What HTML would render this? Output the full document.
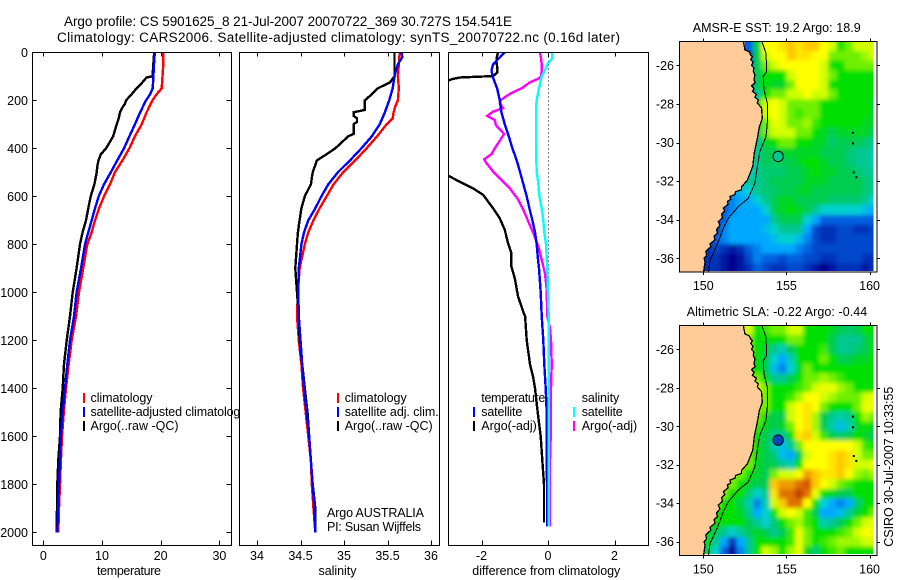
<!DOCTYPE html>
<html>
<head>
<meta charset="utf-8">
<title>Argo profile</title>
<style>
html,body{margin:0;padding:0;background:#fff;}
svg{display:block;}
text{font-family:"Liberation Sans",sans-serif;font-size:12.5px;fill:#000;}
.t{text-anchor:middle;}
.e{text-anchor:end;}
</style>
</head>
<body>
<svg id="chart" xmlns="http://www.w3.org/2000/svg" width="900" height="580" viewBox="0 0 900 580">
<rect width="900" height="580" fill="#fff"/>
<defs>
<clipPath id="c1"><rect x="32" y="52" width="199" height="493"/></clipPath>
<clipPath id="c2"><rect x="239" y="52" width="200" height="493"/></clipPath>
<clipPath id="c3"><rect x="448" y="52" width="200" height="493"/></clipPath>
<clipPath id="cm1"><rect x="679" y="41" width="194.5" height="230"/></clipPath>
<clipPath id="cm2"><rect x="679" y="325" width="194.5" height="229"/></clipPath>
<clipPath id="cb1"><rect x="679" y="41" width="198" height="231"/></clipPath>
<clipPath id="cb2"><rect x="679" y="325" width="198" height="230"/></clipPath>
<filter id="soft" x="-5%" y="-5%" width="110%" height="110%">
<feGaussianBlur in="SourceGraphic" stdDeviation="2" result="b"/>
<feMerge><feMergeNode in="SourceGraphic"/><feMergeNode in="b"/></feMerge>
</filter>
</defs>
<text x="64" y="26" style="font-size:13.5px" textLength="448" lengthAdjust="spacing">Argo profile: CS 5901625_8 21-Jul-2007 20070722_369 30.727S 154.541E</text>
<text x="57" y="42" style="font-size:13.5px" textLength="563" lengthAdjust="spacing">Climatology: CARS2006. Satellite-adjusted climatology: synTS_20070722.nc (0.16d later)</text>

<g id="p1">
<rect x="32.5" y="52.5" width="199" height="493" fill="#fff"/>
<g id="p1s" clip-path="url(#c1)"></g>
<text x="97" y="575" textLength="64">temperature</text>
<rect x="83" y="393" width="2" height="10" fill="#f00"/>
<rect x="83" y="407" width="2" height="10" fill="#00f"/>
<rect x="83" y="421" width="2" height="10" fill="#000"/>
<text x="90.5" y="402" textLength="62">climatology</text>
<text x="90.5" y="416" textLength="156">satellite-adjusted climatology</text>
<text x="90.5" y="430" textLength="88">Argo(..raw -QC)</text>
</g>

<g id="p2">
<rect x="239.5" y="52.5" width="200" height="493" fill="#fff"/>
<g id="p2s" clip-path="url(#c2)"></g>
<text x="318.5" y="575" textLength="38">salinity</text>
<rect x="337" y="393" width="2" height="10" fill="#f00"/>
<rect x="337" y="407" width="2" height="10" fill="#00f"/>
<rect x="337" y="421" width="2" height="10" fill="#000"/>
<text x="344.7" y="402" textLength="62">climatology</text>
<text x="344.7" y="416" textLength="94">satellite adj. clim.</text>
<text x="344.7" y="430" textLength="88">Argo(..raw -QC)</text>
<text x="327" y="517" textLength="97">Argo AUSTRALIA</text>
<text x="327" y="531" textLength="94">PI: Susan Wijffels</text>
</g>

<g id="p3">
<rect x="448.5" y="52.5" width="200" height="493" fill="#fff"/>
<g id="p3s" clip-path="url(#c3)"></g>
<text x="472.3" y="575" textLength="148">difference from climatology</text>
<text x="481.3" y="402" textLength="64">temperature</text>
<text x="481.3" y="416" textLength="41">satellite</text>
<text x="481.3" y="430" textLength="55.5">Argo(-adj)</text>
<rect x="473" y="407" width="2" height="10" fill="#00f"/>
<rect x="473" y="421" width="2" height="10" fill="#000"/>
<text x="581.7" y="402" textLength="37.5">salinity</text>
<text x="581.7" y="416" textLength="41">satellite</text>
<text x="581.7" y="430" textLength="55.5">Argo(-adj)</text>
<rect x="573" y="407" width="2" height="10" fill="#0ff"/>
<rect x="573" y="421" width="2" height="10" fill="#f0f"/>
</g>

<g id="m1"></g>
<text x="692.7" y="32" textLength="168" lengthAdjust="spacing">AMSR-E SST: 19.2  Argo: 18.9</text>
<g id="m2"></g>
<text x="686.7" y="316" textLength="180.5" lengthAdjust="spacing">Altimetric SLA: -0.22  Argo: -0.44</text>
<text transform="translate(893,546.7) rotate(-90)" textLength="160" lengthAdjust="spacing">CSIRO 30-Jul-2007 10:33:55</text>
</svg>

<script>
// ---------- profile data ----------
const depthTicks = [0,200,400,600,800,1000,1200,1400,1600,1800,2000];
const tempTicks = [0,10,20,30];
const salTicks = [34,34.5,35,35.5,36];
const salTickLabels = ['34','34.5','35','35.5','36'];
const diffTicks = [-2,0,2];

const tempClimDepth = [0,50,100,150,175,200,250,300,350,400,450,500,550,600,650,700,750,800,900,1000,1100,1200,1300,1400,1500,1600,1700,1800,1900,2000];
const tempClim = [20.45,20.45,20.3,20.17,19.3,18.6,17.6,16.76,15.6,14.66,13.5,12.2,11.36,10.34,9.5,8.8,8.24,7.5,6.8,6.08,5.57,4.83,4.32,3.86,3.5,3.18,3.0,2.84,2.67,2.56];
const tempSat = [19.0,18.86,18.75,18.64,18.2,17.5,16.5,15.6,14.66,13.75,12.6,11.5,10.34,9.43,8.8,8.24,7.67,7.1,6.42,5.68,5.23,4.55,4.09,3.7,3.3,3.0,2.84,2.67,2.5,2.39];
const tempArgoDepth = [0,100,105,125,150,175,200,215,225,250,275,300,350,400,425,450,475,500,550,600,650,700,750,800,900,1000,1100,1200,1300,1400,1500,1600,1700,1800,1900,2000];
const tempArgo = [18.9,18.6,17.6,16.9,15.9,15.05,14.1,13.9,13.6,13.07,12.84,12.5,11.9,10.7,9.8,9.4,9.2,9.1,8.7,8.07,7.67,7.27,6.7,6.25,5.68,5.0,4.55,3.98,3.52,3.3,2.95,2.84,2.56,2.39,2.33,2.27];

const salClimDepth = [0,50,100,150,200,225,250,275,300,350,400,450,500,550,600,650,700,750,800,900,1000,1100,1200,1300,1400,1500,1600,1700,1800,1900,2000];
const salClim = [35.64,35.63,35.62,35.63,35.62,35.59,35.57,35.56,35.49,35.38,35.26,35.13,34.99,34.88,34.8,34.72,34.65,34.59,34.55,34.49,34.47,34.46,34.48,34.51,34.53,34.56,34.59,34.62,34.63,34.65,34.67];
const salSatDepth = [0,20,50,75,100,150,200,250,300,350,400,450,500,550,600,650,700,750,800,900,1000,1100,1200,1300,1400,1500,1600,1700,1800,1900,2000];
const salSat = [35.66,35.67,35.62,35.6,35.58,35.56,35.52,35.47,35.41,35.32,35.2,35.07,34.93,34.82,34.74,34.67,34.59,34.54,34.51,34.48,34.475,34.48,34.5,34.52,34.54,34.57,34.6,34.62,34.64,34.66,34.67];
const salArgoDepth = [0,100,125,150,175,200,215,240,250,265,275,290,300,340,350,400,420,450,500,550,600,650,700,750,800,900,1000,1100,1200,1300,1400,1500,1600,1700,1800,1900,2000];
const salArgo = [35.58,35.58,35.53,35.39,35.32,35.24,35.24,35.24,35.11,35.11,35.15,35.15,35.11,35.11,35.05,34.9,34.82,34.69,34.64,34.62,34.55,34.51,34.49,34.47,34.46,34.44,34.46,34.48,34.49,34.52,34.55,34.58,34.6,34.62,34.64,34.67,34.67];

const diffTempSatDepth = [0,50,75,100,125,150,200,250,300,350,400,450,500,550,600,650,700,750,800,850,900,1000,1100,1200,1300,1400,1500,1600,1700,1800,1900,1975];
const diffTempSat = [-1.3,-1.65,-1.7,-1.67,-1.6,-1.53,-1.45,-1.4,-1.3,-1.18,-1.07,-0.94,-0.84,-0.74,-0.64,-0.56,-0.47,-0.39,-0.34,-0.31,-0.27,-0.22,-0.19,-0.14,-0.11,-0.07,-0.04,-0.04,-0.04,-0.03,-0.03,-0.03];
const diffTempArgoDepth = [0,25,40,70,85,99,101,105,112,118,150,200,300,400,500,514,540,567,594,650,692,740,796,838,893,942,1018,1083,1100,1200,1250,1300,1350,1400,1500,1600,1700,1800,1900,1950,1960];
const diffTempArgo = [-1.5,-1.55,-1.55,-1.52,-1.53,-1.65,-1.95,-2.65,-2.9,-3.0,-3.6,-3.4,-3.1,-3.05,-3.05,-3.0,-2.65,-2.25,-1.95,-1.65,-1.45,-1.3,-1.2,-1.1,-1.1,-1.0,-0.9,-0.74,-0.69,-0.64,-0.59,-0.54,-0.45,-0.39,-0.31,-0.22,-0.17,-0.12,-0.12,-0.12,-0.12];
const diffSalSatDepth = [0,25,50,75,100,150,200,225,250,300,400,500,550,600,650,700,750,800,900,1000,1100,1200,1500,1800,1975];
const diffSalSat = [0.13,0.13,-0.02,-0.09,-0.19,-0.27,-0.34,-0.36,-0.36,-0.36,-0.36,-0.34,-0.29,-0.26,-0.19,-0.14,-0.11,-0.06,-0.02,0,0.02,0.02,0.02,0.02,0.02];
const diffSalArgoDepth = [0,25,50,75,100,110,125,150,160,178,200,212,233,247,265,271,282,303,321,340,379,400,424,446,462,497,532,567,615,657,706,754,810,865,921,990,1100,1150,1200,1300,1400,1500,1600,1700,1800,1900,1975];
const diffSalArgo = [-0.24,-0.21,-0.19,-0.19,-0.21,-0.29,-0.54,-0.79,-0.96,-1.2,-1.43,-1.45,-1.35,-1.65,-1.83,-1.75,-1.6,-1.57,-1.45,-1.32,-1.5,-1.6,-1.7,-1.92,-1.85,-1.65,-1.4,-1.15,-0.89,-0.74,-0.59,-0.44,-0.29,-0.19,-0.09,-0.04,-0.02,0.06,0.09,0.11,0.09,0.09,0.08,0.06,0.06,0.06,0.05];

// ---------- map data (colour index per 0.5 degree cell) ----------
const _ = null;
const lonTicks = [150,155,160];
const latTicks = [-26,-28,-30,-32,-34,-36];
const colorStops = ['#00008c','#0030b8','#0060e0','#00a8ff','#00d0d0','#00c890','#00cc50','#00e000','#70f000','#d0ff00','#ffff00','#ffc800','#e07000','#c04000'];
const sstGrid = [
[_,_,_,_,_,2,6,10,10,10.5,11,10.5,11,11,10,9,7,8,9,9,9],
[_,_,_,_,_,1,6,9,10,10,11,10.5,10.5,10,10,8,8,8,8,8.5,9],
[_,_,_,_,_,2,6,8,9,10,10,10,10,10,9,7,7,8,8,8,8],
[_,_,_,_,_,_,6,7,7,7,9,10,10,10,9,8,7,7,7,7,7],
[_,_,_,_,_,2,6,7,6.5,6.5,8,10,10,10,9,7,7,7,7,7,7],
[_,_,_,_,_,1,5,7,8,8,9,9,10,9,9,8,7,7,7,7,7],
[_,_,_,_,_,_,7,9,10,9,8,8,8,8,7,7,7,7,7,7,6.5],
[_,_,_,_,_,_,7,9,10,9,8,7.5,8,8,7,7,7,7,7,7,6.5],
[_,_,_,_,_,_,6,8,9.5,9,8,8,8.5,7.5,7,7,7,7,7,6.5,6.5],
[_,_,_,_,_,_,6,8,9,9,9,8,8,7,6.5,6,6.5,6.5,6.5,6.5,6],
[_,_,_,_,_,_,5,6.5,7,8,8,7,7,6.5,6.5,5.5,6,6,6,5.5,5],
[_,_,_,_,_,5,5,6,6,6.5,6.5,6.5,6.5,6.5,6,6,6,5.5,5,5,4.5],
[_,_,_,_,_,4,5,6,5.5,6,6,6.5,7,7,6.5,6,6,5.5,5,5,4.5],
[_,_,_,_,_,4,5,5.5,5.5,5.5,6,6,6.5,7,6.5,6.5,6,6,5.5,5,5],
[_,_,_,_,4,5,5,5.5,6,6,6,6,6.5,6.5,6.5,6,6,6,6,5.5,5],
[_,_,_,3,3.5,4,5,5.5,5.5,6,6,6.5,6.5,6,6,6,6,6,6,5.5,5],
[_,_,2,2.5,3,3,4,5,6,6.5,6.5,6,6,6,6,5.5,5.5,5.5,5.5,5,4],
[_,2,2,2.5,3,3,3,4,6,6.5,7,6.5,6,5,4,4,4,4,4,3.5,3],
[_,1,2,3,3,3,3,3,5,6,6,6,4,3,2,2,2,2,2,2,2],
[1,1,2.5,3,3,3,3,3.5,4,5,5,5,3,1.5,1,1,1.5,1.5,1,1,1.5],
[1,2,2.5,3,3,3,3,3,3.5,4,4,3.5,2.5,1.5,1,1,1.5,1.5,1.5,1.5,1.5],
[1,1.5,1,0.5,1,2,2.5,3,3,3,3,2.5,2,1.5,1.5,1.5,1.5,1.5,1.5,1.5,1.5],
[1,1,0.5,0,0.5,1.5,2.5,2,2,1.5,2,2,1.5,1.5,1,1,1.5,1.5,1.5,1,1],
[1,1,0.5,0,0.5,1,2,1.5,1,1,1.5,1.5,1,0.5,0,0.5,1,1,1,0.5,1]
];
const slaGrid = [
[_,_,_,_,_,9,7,7.5,8,8,9,9,7,7,7,6.5,6,5.5,6,7,7],
[_,_,_,_,_,8,7,7,7,7,8,8,7,7,7,6,5,5,5,6,7],
[_,_,_,_,_,8,7,6.5,5,4.5,6,7,7,7,7.5,6,5,5,5.5,6,7],
[_,_,_,_,_,_,7,6,4,3,4.5,7,7,7,8,7,6,6,6.5,6.5,7],
[_,_,_,_,_,_,7,6,3.5,2.5,4,6.5,8,7,7,7,7,7,7,7,7],
[_,_,_,_,_,_,8,7,5,5,6,7,8,8,8.5,8,7.5,7,7,7,7],
[_,_,_,_,_,_,9,8,7,7,7,7.5,8,9,9.5,9.5,8.5,8,7,7,7],
[_,_,_,_,_,_,9,8,7,7,7.5,8.5,10,10,9,8.5,8,8,8,9,9.5],
[_,_,_,_,_,_,8,8,7,7,9,10,10.5,10,8,7,7,7,8,9.5,9.5],
[_,_,_,_,_,_,8,7,6,6,9,10,10.5,8.5,6,5,4.5,5,7,8.5,8],
[_,_,_,_,_,_,7.5,6.5,6,6.5,8,10,10.5,8.5,6,4.5,3.5,4.5,6.5,7,6.5],
[_,_,_,_,_,8,7,6,5,5,7,10.5,11,9,7.5,6,5.5,6,7,6.5,6],
[_,_,_,_,_,8,7,6,4.5,3.5,5,8,10,10,10,10,10,10,9,7.5,7],
[_,_,_,_,_,8,7,6,5.5,3.5,3,6,9,10,10,10.5,11,10.5,9,8,8],
[_,_,_,_,8,8,6.5,6,6,5,4.5,7,10,10,10,10.5,11,10.5,9,9,9.5],
[_,_,_,8,8,7,6.5,6,8,9,9,10,11.5,11,10.5,10.5,11,10,8.5,8,8.5],
[_,_,8,8,7,6.5,6,6,11,11.5,11.5,12,12.5,11,10,9,8,7.5,7,7,7],
[_,_,8,7,7,5.5,4,5,10.5,12,12,13,12,9.5,7,6.5,6,6,7,7,7],
[_,8,7,7,6,4.5,2.5,4.5,9,11,12,12,10,7,4,3,2.5,3,5.5,7,7],
[_,7,7,7,6.5,5,3,4,7,9,10,9,7.5,6,3,3,3.5,5,6.5,7,8],
[7,7,7,7,7,6,5,4,5.5,7,8,8.5,7.5,7,4.5,5,6,7,8,9,9.5],
[7,6,5,4,5,6,6.5,6,5,6,7.5,9.5,8,7,7,7,7.5,8,9,10,9.5],
[7,5,3,1,3,5,7,7,7,7,7.5,9.5,8,7,7.5,8,8.5,8.5,8.5,9,9],
[6,4,2,0,2.5,5,7,9,8.5,7,8.5,9.5,6.5,5.5,7,7.5,8,7,7,7,7]
];
const coastLon = [152.4,152.5,152.75,152.85,152.95,152.85,153.0,152.9,153.05,153.0,153.1,153.05,153.12,152.9,153.05,152.95,153.2,153.1,153.3,153.25,153.5,153.55,153.37,153.25,153.07,152.97,152.65,152.3,152.3,151.95,151.9,151.6,151.65,151.45,151.5,151.2,151.3,151.1,151.15,150.9,151.0,150.8,150.85,150.65,150.7,150.4,150.45,150.15,150.2,150.05,150.1,150.0];
const coastLat = [-24.7,-25.2,-25.3,-25.46,-25.55,-25.7,-25.85,-26.0,-26.15,-26.3,-26.5,-26.76,-26.9,-27.05,-27.2,-27.35,-27.5,-27.65,-27.8,-27.95,-28.2,-28.75,-29.2,-29.8,-30.5,-31.25,-31.95,-32.3,-32.45,-32.55,-32.7,-32.8,-32.95,-33.05,-33.2,-33.4,-33.55,-33.7,-33.9,-34.1,-34.3,-34.5,-34.7,-34.85,-35.05,-35.25,-35.4,-35.65,-35.85,-36.0,-36.2,-36.8];
const shelfLon = [153.5,153.77,153.81,153.6,153.65,153.85,153.85,153.77,153.4,153.25,153.1,152.7,152.1,151.5,151.2,150.9,150.6,150.4,150.3];
const shelfLat = [-24.7,-25.38,-26.33,-26.59,-27.28,-27.97,-29.0,-29.7,-30.47,-31.25,-32.11,-32.9,-33.32,-33.93,-34.45,-35.14,-35.74,-36.09,-36.8];
const isletLon = [159.0,159.0,159.05,159.2];
const isletLat = [-29.5,-30.05,-31.55,-31.8];
const floatLon = [154.5];
const floatLat = [-30.72];

// ---------- axis functions ----------
const NS = 'http://www.w3.org/2000/svg';
const depthY = d => 52.3 + 0.24 * d;
const tempX = v => 43.3 + 5.87 * v;
const salX = v => 257 + 87 * (v - 34);
const diffX = v => 548 + 33.25 * v;

function make(tag, parent, attrs) {
  const el = document.createElementNS(NS, tag);
  for (const k in attrs) el.setAttribute(k, attrs[k]);
  parent.appendChild(el);
  return el;
}
function drawProfile(parent, xf, depths, vals, color, name, width) {
  const pts = depths.map((d, i) => xf(vals[i]).toFixed(1) + ',' + depthY(d).toFixed(1)).join(' ');
  const el = make('polyline', parent, {points: pts, fill: 'none', stroke: color, 'stroke-width': width || 2.4, 'shape-rendering': 'crispEdges'});
  
  
}
function drawFrame(parent, x0, x1, xf, xticks, xlabels, yLabels, yTickMarks) {
  const y0 = 52.5, y1 = 545.5;
  const fr = make('rect', parent, {x: x0, y: y0, width: x1 - x0, height: y1 - y0, fill: 'none', stroke: '#000', 'stroke-width': 1, 'shape-rendering': 'crispEdges'});
  
  
  xticks.forEach((t, i) => {
    const x = Math.round(xf(t)) + 0.5;
    const up = make('path', parent, {d: `M${x} ${y0}v4M${x} ${y1}v-5`, stroke: '#000', 'stroke-width': 1, 'shape-rendering': 'crispEdges'});
    
    
    const lb = make('text', parent, {x: xf(t), y: 560, class: 't'});
    
    
    lb.textContent = xlabels[i];
  });
  if (yTickMarks) depthTicks.forEach(d => {
    const y = Math.round(depthY(d)) + 0.5;
    const tk = make('path', parent, {d: `M${x0} ${y}h4M${x1} ${y}h-5`, stroke: '#000', 'stroke-width': 1, 'shape-rendering': 'crispEdges'});
    
    
  });
  if (yLabels) depthTicks.forEach(d => {
    const lb = make('text', parent, {x: 28, y: depthY(d) + 4.5, class: 'e'});
    
    
    lb.textContent = d;
  });
}

// ---------- profiles ----------
const s1 = document.getElementById('p1s');
const s2 = document.getElementById('p2s');
const s3 = document.getElementById('p3s');
drawProfile(s1, tempX, tempClimDepth, tempClim, '#f00', 'temperature-climatology-line');
drawProfile(s1, tempX, tempArgoDepth, tempArgo, '#000', 'temperature-argo-line');
drawProfile(s1, tempX, tempClimDepth, tempSat, '#00f', 'temperature-satellite-line');
drawProfile(s2, salX, salClimDepth, salClim, '#f00', 'salinity-climatology-line');
drawProfile(s2, salX, salArgoDepth, salArgo, '#000', 'salinity-argo-line');
drawProfile(s2, salX, salSatDepth, salSat, '#00f', 'salinity-satellite-line');
const zero = make('line', s3, {x1: diffX(0) + 0.5, x2: diffX(0) + 0.5, y1: depthY(0), y2: depthY(1900), stroke: '#000', 'stroke-width': 1, 'stroke-dasharray': '1 3', 'shape-rendering': 'crispEdges'});


drawProfile(s3, diffX, diffTempArgoDepth, diffTempArgo, '#000', 'difference-temperature-argo-line');
drawProfile(s3, diffX, diffSalArgoDepth, diffSalArgo, '#f0f', 'difference-salinity-argo-line');
drawProfile(s3, diffX, diffTempSatDepth, diffTempSat, '#00f', 'difference-temperature-satellite-line');
drawProfile(s3, diffX, diffSalSatDepth, diffSalSat, '#0ff', 'difference-salinity-satellite-line');
drawFrame(document.getElementById('p1'), 32.5, 231.5, tempX, tempTicks, tempTicks, true, true);
drawFrame(document.getElementById('p2'), 239.5, 439.5, salX, salTicks, salTickLabels, false, false);
drawFrame(document.getElementById('p3'), 448.5, 648.5, diffX, diffTicks, diffTicks, false, false);

// ---------- maps ----------
function hex(c) { return [1, 3, 5].map(i => parseInt(c.substr(i, 2), 16)); }
function colorOf(v) {
  const a = Math.floor(v), b = Math.min(a + 1, colorStops.length - 1), f = v - a;
  const ca = hex(colorStops[a]), cb = hex(colorStops[b]);
  return 'rgb(' + ca.map((c, i) => Math.round(c + (cb[i] - c) * f)).join(',') + ')';
}
function drawMap(id, grid, top, bottom, lat26, pxPerDeg, clipData, clipBox, markerColor, prefix) {
  const g = document.getElementById(id);
  const lonX = lon => 703.3 + 16.63 * (lon - 150);
  const latY = lat => lat26 + pxPerDeg * (-26 - lat);
  const clipGroup = make('g', g, {'clip-path': 'url(#' + clipData + ')'});
  const cells = make('g', clipGroup, {filter: 'url(#soft)'});
  
  
  grid.forEach((row, r) => row.forEach((v, c) => {
    if (v === null) return;
    const lat0 = -24.75 - 0.5 * r, lon0 = 150 + 0.5 * c;
    const cell = make('rect', cells, {x: lonX(lon0), y: latY(lat0), width: 16.63 * 0.5 + 0.5, height: pxPerDeg * 0.5 + 0.5, fill: colorOf(v), 'shape-rendering': 'crispEdges'});
    
    
  }));
  const front = make('g', g, {'clip-path': 'url(#' + clipBox + ')'});
  const pts = coastLon.map((lon, i) => lonX(lon).toFixed(1) + ',' + latY(coastLat[i]).toFixed(1));
  const land = make('polygon', front, {points: '670,' + (top - 5) + ' ' + pts.join(' ') + ' 670,' + (bottom + 5), fill: '#ffcc99', 'shape-rendering': 'crispEdges'});
  
  
  const coast = make('polyline', front, {points: pts.join(' '), fill: 'none', stroke: '#000', 'stroke-width': 1.3, 'shape-rendering': 'crispEdges'});
  
  
  const shelf = make('polyline', front, {points: shelfLon.map((lon, i) => lonX(lon).toFixed(1) + ',' + latY(shelfLat[i]).toFixed(1)).join(' '), fill: 'none', stroke: '#000', 'stroke-width': 1, 'shape-rendering': 'crispEdges'});
  
  
  isletLon.forEach((lon, i) => {
    const dot = make('rect', front, {x: lonX(lon) - 1, y: latY(isletLat[i]) - 1, width: 2, height: 2, fill: '#000'});
    
    
  });
  const mark = make('circle', front, {cx: lonX(floatLon[0]), cy: latY(floatLat[0]), r: 5.2, fill: markerColor, stroke: '#000', 'stroke-width': 1});
  
  
  const box = make('rect', g, {x: 679.5, y: top, width: 197.5, height: bottom - top, fill: 'none', stroke: '#000', 'stroke-width': 1, 'shape-rendering': 'crispEdges'});
  
  
  lonTicks.forEach(t => {
    const x = Math.round(lonX(t)) + 0.5;
    const tk = make('path', g, {d: `M${x} ${top}v-3M${x} ${bottom}v3`, stroke: '#000', 'stroke-width': 1, 'shape-rendering': 'crispEdges'});
    
    
    const lb = make('text', g, {x: lonX(t), y: bottom + 18, class: 't'});
    
    
    lb.textContent = t;
  });
  latTicks.forEach(t => {
    const y = Math.round(latY(t)) + 0.5;
    const tk = make('path', g, {d: `M679.5 ${y}h-3M877 ${y}h3`, stroke: '#000', 'stroke-width': 1, 'shape-rendering': 'crispEdges'});
    
    
    const lb = make('text', g, {x: 674, y: latY(t) + 4.5, class: 'e'});
    
    
    lb.textContent = t;
  });
}
drawMap('m1', sstGrid, 41.5, 272, 65.3, 19.3, 'cm1', 'cb1', '#00c88c', 'sst');
drawMap('m2', slaGrid, 325.5, 555.5, 349.3, 19.24, 'cm2', 'cb2', '#0048c0', 'sla');
</script>
</body>
</html>
